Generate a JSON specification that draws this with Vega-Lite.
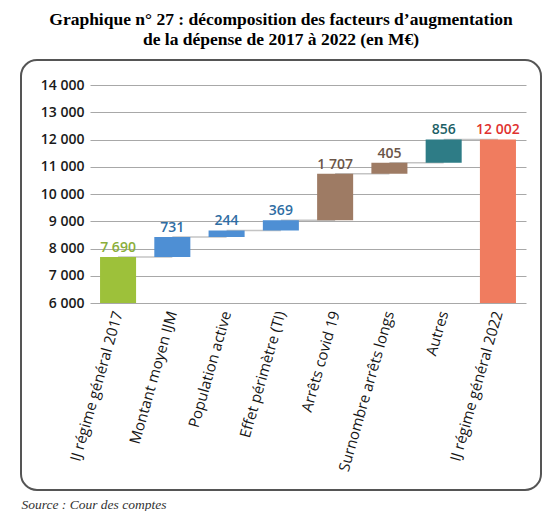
{
  "$schema": "https://vega.github.io/schema/vega-lite/v6.json",
  "width": 520,
  "height": 430,
  "padding": {"top": 10, "left": 21, "right": 5, "bottom": 0},
  "title": {
    "text": ["Graphique n° 27 : décomposition des facteurs d’augmentation", "de la dépense de 2017 à 2022 (en M€)"],
    "font": "Liberation Serif",
    "fontSize": 17.5,
    "fontWeight": "bold",
    "color": "#000000",
    "lineHeight": 20,
    "anchor": "middle",
    "baseline": "top",
    "offset": 12
  },
  "config": {
    "locale": {"number": {"decimal": ",", "thousands": " ", "grouping": [3], "currency": ["", " €"]}},
    "view": {"stroke": "#555555", "strokeWidth": 2, "cornerRadius": 16}
  },
  "data": {
    "values": [
      {"cat": "IJ régime général 2017", "start": 0, "end": 7690, "value": 7690, "groupe": "total2017", "next": "Montant moyen IJM"},
      {"cat": "Montant moyen IJM", "start": 7690, "end": 8421, "value": 731, "groupe": "bleu", "next": "Population active"},
      {"cat": "Population active", "start": 8421, "end": 8665, "value": 244, "groupe": "bleu", "next": "Effet périmètre (TI)"},
      {"cat": "Effet périmètre (TI)", "start": 8665, "end": 9034, "value": 369, "groupe": "bleu", "next": "Arrêts covid 19"},
      {"cat": "Arrêts covid 19", "start": 9034, "end": 10741, "value": 1707, "groupe": "brun", "next": "Surnombre arrêts longs"},
      {"cat": "Surnombre arrêts longs", "start": 10741, "end": 11146, "value": 405, "groupe": "brun", "next": "Autres"},
      {"cat": "Autres", "start": 11146, "end": 12002, "value": 856, "groupe": "autres", "next": "IJ régime général 2022"},
      {"cat": "IJ régime général 2022", "start": 0, "end": 12002, "value": 12002, "groupe": "total2022", "next": null}
    ]
  },
  "encoding": {
    "x": {
      "field": "cat",
      "type": "nominal",
      "sort": null,
      "scale": {"range": [69, 505], "paddingInner": 0.336, "paddingOuter": 0.185},
      "axis": {
        "orient": "bottom",
        "offset": -187,
        "labelAngle": -74,
        "labelAlign": "right",
        "labelBaseline": "middle",
        "labelPadding": 8,
        "labelLimit": 300,
        "labelFont": "Open Sans",
        "labelFontSize": 15,
        "labelFontWeight": 500,
        "labelColor": "#151515",
        "ticks": false,
        "domain": false,
        "grid": false,
        "title": "Source : Cour des comptes",
        "titleX": 0,
        "titleY": 205,
        "titleAlign": "left",
        "titleAnchor": "start",
        "titleBaseline": "alphabetic",
        "titleFont": "Liberation Serif",
        "titleFontStyle": "italic",
        "titleFontWeight": "normal",
        "titleFontSize": 13.5,
        "titleColor": "#333333"
      }
    }
  },
  "layer": [
    {
      "transform": [{"filter": "datum.next != null"}],
      "mark": {"type": "rule", "color": "#c4c4c4", "strokeWidth": 1.5},
      "encoding": {
        "x2": {"field": "next"},
        "y": {"field": "end", "type": "quantitative"}
      }
    },
    {
      "mark": {"type": "bar"},
      "encoding": {
        "y": {
          "field": "start",
          "type": "quantitative",
          "scale": {"domain": [6000, 14000], "range": [243, 25], "clamp": true, "nice": false, "zero": false},
          "axis": {
            "orient": "left",
            "offset": -69,
            "values": [6000, 7000, 8000, 9000, 10000, 11000, 12000, 13000, 14000],
            "format": ",d",
            "labelPadding": 6,
            "labelFont": "Open Sans",
            "labelFontSize": 14,
            "labelFontWeight": 600,
            "labelColor": "#1a1a1a",
            "ticks": false,
            "domain": false,
            "gridColor": "#a8a8a8",
            "gridWidth": 1,
            "title": null
          }
        },
        "y2": {"field": "end"},
        "color": {
          "field": "groupe",
          "type": "nominal",
          "scale": {"domain": ["total2017", "bleu", "brun", "autres", "total2022"], "range": ["#9dc13a", "#4e8fd4", "#9e7b64", "#2e7c86", "#f07c5f"]},
          "legend": null
        }
      }
    },
    {
      "mark": {"type": "text", "baseline": "alphabetic", "dy": -5, "font": "Open Sans", "fontSize": 14, "fontWeight": 600},
      "encoding": {
        "y": {"field": "end", "type": "quantitative"},
        "text": {"field": "value", "type": "quantitative", "format": ",d"},
        "color": {
          "field": "groupe",
          "type": "nominal",
          "scale": {"domain": ["total2017", "bleu", "brun", "autres", "total2022"], "range": ["#8aae3a", "#2f6da3", "#6b5548", "#1c5f66", "#e0312f"]},
          "legend": null
        }
      }
    }
  ],
  "resolve": {"scale": {"color": "independent"}}
}
